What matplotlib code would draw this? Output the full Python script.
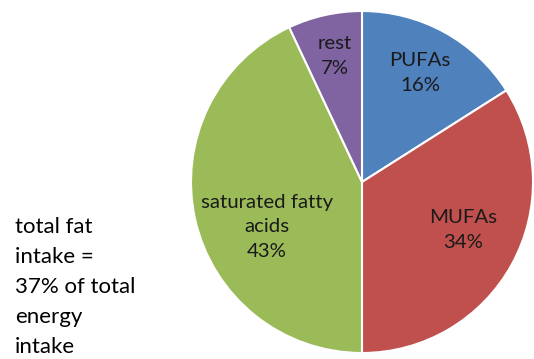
import matplotlib
matplotlib.use("Agg")
import matplotlib.pyplot as plt

# Composition of fat intake
categories = ["PUFAs", "MUFAs", "saturated fatty\nacids", "rest"]
shares = [16, 34, 43, 7]
colors = ["#4F81BD", "#C0504D", "#9BBB59", "#8064A2"]
note = "total fat\nintake =\n37% of total\nenergy\nintake"

plt.rcParams["font.family"] = ["Lato", "DejaVu Sans"]

W, H = 534, 359
fig = plt.figure(figsize=(W / 100, H / 100), dpi=100)
ax = fig.add_axes([0, 0, 1, 1])

cx, cy, R = 362, 177, 171
wedges, _ = ax.pie(shares, colors=colors, startangle=90, counterclock=False,
                   center=(cx, cy), radius=R, frame=True,
                   wedgeprops=dict(edgecolor="white", linewidth=1.5))
ax.set_xlim(0, W)
ax.set_ylim(0, H)
ax.set_aspect("equal")
ax.axis("off")

# label anchor offsets from the pie centre (pixels)
offsets = [(58, 109), (101, -48), (-95, -45), (-27, 126)]
for name, val, (dx, dy) in zip(categories, shares, offsets):
    ax.text(cx + dx, cy + dy, f"{name}\n{val}%", ha="center", va="center",
            fontsize=14.7, color="#1a1a1a", linespacing=1.55)

ax.text(15, H - 287, note, ha="left", va="center", fontsize=16,
        color="black", linespacing=1.62)

fig.savefig("out.png", dpi=100)
